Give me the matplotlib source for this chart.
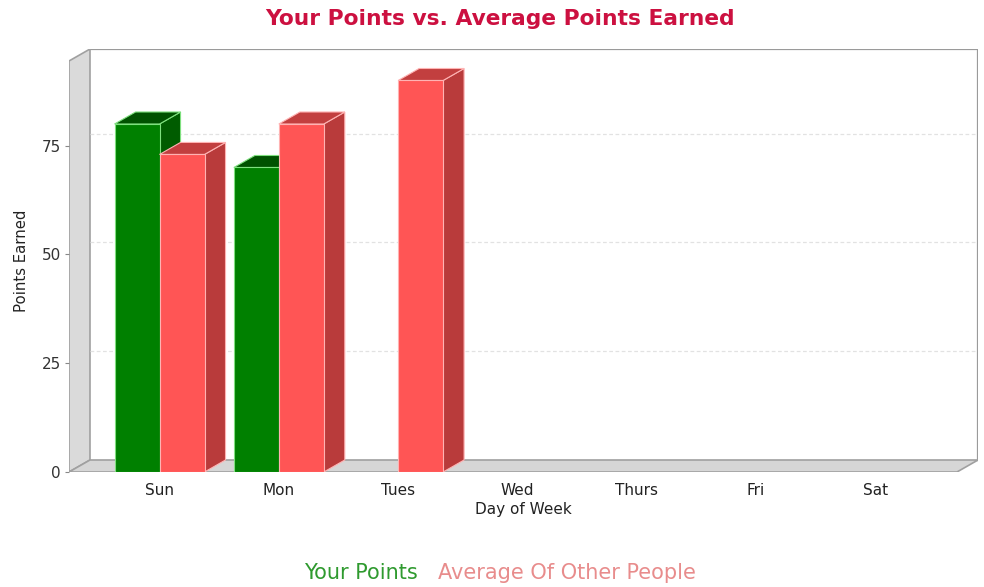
import matplotlib.pyplot as plt
from matplotlib.patches import Polygon, Rectangle
import numpy as np

# Data
days = ['Sun', 'Mon', 'Tues', 'Wed', 'Thurs', 'Fri', 'Sat']
your_points = [80, 70, np.nan, np.nan, np.nan, np.nan, np.nan]
avg_points = [73, 80, 90, np.nan, np.nan, np.nan, np.nan]
series_names = ['Your Points', 'Average Of Other People']
yticks = [0, 25, 50, 75]

# 3D look: colours for (front, top, side, edge)
green = ('#008000', '#005200', '#005c00', '#7fe07f')
red = ('#ff5555', '#c23f3f', '#b93b3b', '#ffb3b3')

fig = plt.figure(figsize=(9.84, 5.87), dpi=100)
ax = fig.add_axes([69/984, 115/587, 909/984, 423/587])

x_left, x_right = -0.759, 6.861
y_top = 97.24
dx, dy = 0.176, 2.76          # depth offset in data units
bar_w = 0.377

ax.set_xlim(x_left, x_right)
ax.set_ylim(0, y_top)
for s in ax.spines.values():
    s.set_visible(False)

# back wall outline, left wall and floor
ax.plot([x_left + dx, x_right, x_right], [y_top, y_top, dy], color='#9a9a9a', lw=1.6, zorder=1)
ax.add_patch(Polygon([(x_left, 0), (x_left + dx, dy), (x_left + dx, y_top), (x_left, y_top - dy)],
                     closed=True, facecolor='#dadada', edgecolor='#a0a0a0', lw=1.2, zorder=1))
ax.add_patch(Polygon([(x_left, 0), (x_right - dx, 0), (x_right, dy), (x_left + dx, dy)],
                     closed=True, facecolor='#d6d6d6', edgecolor='#a0a0a0', lw=1.2, zorder=1))

# gridlines on the back wall
for v in yticks[1:]:
    ax.plot([x_left + dx, x_right], [v + dy, v + dy], color='#e2e2e2', lw=0.9,
            linestyle=(0, (3, 2)), zorder=1)


def bar3d(x0, h, colors):
    front, top, side, edge = colors
    ax.add_patch(Polygon([(x0 + bar_w, 0), (x0 + bar_w + dx, dy), (x0 + bar_w + dx, h + dy), (x0 + bar_w, h)],
                         closed=True, facecolor=side, edgecolor=edge, lw=0.8, zorder=3))
    ax.add_patch(Polygon([(x0, h), (x0 + bar_w, h), (x0 + bar_w + dx, h + dy), (x0 + dx, h + dy)],
                         closed=True, facecolor=top, edgecolor=edge, lw=0.8, zorder=3))
    ax.add_patch(Rectangle((x0, 0), bar_w, h, facecolor=front, edgecolor=edge, lw=0.8, zorder=3))


x = np.arange(len(days))
for i in x:
    if not np.isnan(your_points[i]):
        bar3d(i - bar_w, your_points[i], green)
    if not np.isnan(avg_points[i]):
        bar3d(i, avg_points[i], red)

# axes text
ax.set_yticks(yticks)
ax.set_yticklabels([str(v) for v in yticks], fontsize=11, color='#333333')
ax.tick_params(axis='y', length=3, width=0.8, color='#888888', pad=3)
ax.set_xticks(x)
ax.set_xticklabels(days, fontsize=11, color='#222222')
ax.tick_params(axis='x', length=0, pad=8)
ax.set_xlabel('Day of Week', fontsize=11, color='#222222', labelpad=3)
ax.set_ylabel('Points Earned', fontsize=10.7, color='#222222', labelpad=9)

fig.text(0.508, 0.968, 'Your Points vs. Average Points Earned', ha='center', va='center',
         fontsize=15.7, fontweight='bold', color='#cc1040')

# legend (text only, coloured)
handles = [Rectangle((0, 0), 0, 0, visible=False) for _ in series_names]
fig.legend(handles, series_names, loc='center', bbox_to_anchor=(0.508, 0.024), ncol=2,
           frameon=False, handlelength=0, handletextpad=0, columnspacing=1.0,
           fontsize=15, labelcolor=['#2f9a2f', '#e88c8c'])

plt.savefig('out.png', dpi=100)
plt.close()
